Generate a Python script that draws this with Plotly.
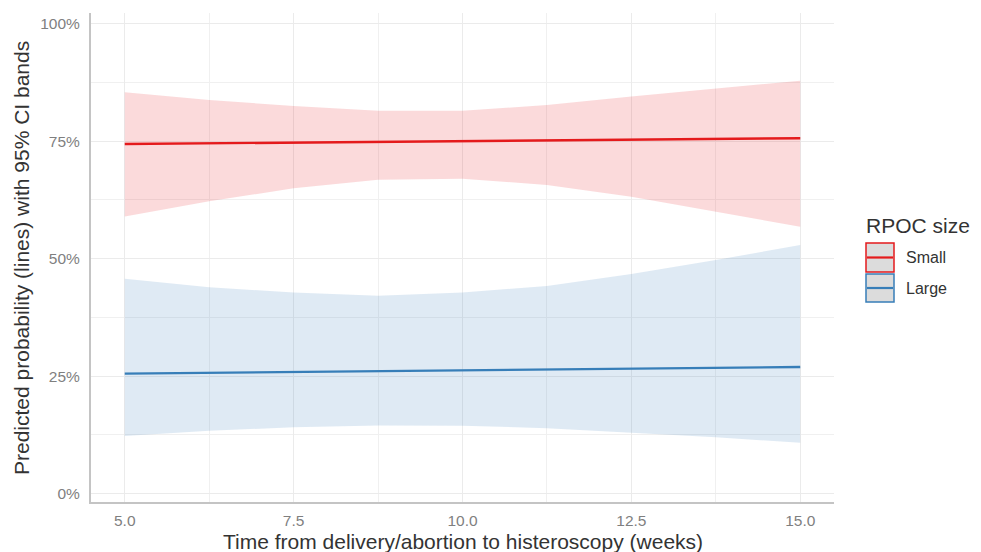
import plotly.graph_objects as go

# Data
weeks = [5.0, 6.25, 7.5, 8.75, 10.0, 11.25, 12.5, 13.75, 15.0]

small_fit = [0.744, 0.7455, 0.747, 0.7485, 0.750, 0.7515, 0.753, 0.755, 0.7565]
small_upper = [0.8545, 0.838, 0.825, 0.815, 0.815, 0.827, 0.845, 0.862, 0.879]
small_lower = [0.590, 0.622, 0.650, 0.668, 0.670, 0.657, 0.632, 0.600, 0.568]

large_fit = [0.2552, 0.257, 0.2588, 0.2605, 0.2623, 0.264, 0.2658, 0.2676, 0.2694]
large_upper = [0.457, 0.439, 0.428, 0.421, 0.428, 0.442, 0.4675, 0.497, 0.529]
large_lower = [0.1225, 0.1338, 0.141, 0.145, 0.1445, 0.139, 0.130, 0.1197, 0.108]

y_tickvals = [0, 0.25, 0.5, 0.75, 1.0]
y_ticktext = ["0%", "25%", "50%", "75%", "100%"]
x_tickvals = [5.0, 7.5, 10.0, 12.5, 15.0]

groups = ["Small", "Large"]
line_colors = {"Small": "#E41A1C", "Large": "#377EB8"}
fill_colors = {"Small": "rgba(228,26,28,0.16)", "Large": "rgba(55,126,184,0.16)"}
series = {
    "Small": (small_fit, small_lower, small_upper),
    "Large": (large_fit, large_lower, large_upper),
}

FONT = "Liberation Sans, Arial, Helvetica, sans-serif"
TITLE_COLOR = "#333333"

fig = go.Figure()
for g in groups:
    fit, lo, hi = series[g]
    fig.add_trace(go.Scatter(
        x=weeks + weeks[::-1], y=hi + lo[::-1],
        fill="toself", fillcolor=fill_colors[g],
        line=dict(width=0), mode="lines", hoverinfo="skip", showlegend=False,
    ))
for g in groups:
    fit, lo, hi = series[g]
    fig.add_trace(go.Scatter(
        x=weeks, y=fit, mode="lines", name=g,
        line=dict(color=line_colors[g], width=2.4), showlegend=False,
    ))


# page-pixel -> paper coordinates (plot area on page: x 91..834, y 13..502)
def px_x(p):
    return (p - 91) / (834 - 91)


def px_y(p):
    return (502 - p) / (502 - 13)


shapes = []
annotations = [
    dict(text="RPOC size", xref="paper", yref="paper", x=px_x(864), y=px_y(225),
         xanchor="left", yanchor="middle", showarrow=False,
         font=dict(family=FONT, size=21, color=TITLE_COLOR)),
    dict(text="Time from delivery/abortion to histeroscopy (weeks)",
         xref="paper", yref="paper", x=px_x(463), y=px_y(541),
         xanchor="center", yanchor="middle", showarrow=False,
         font=dict(family=FONT, size=21, color=TITLE_COLOR)),
    dict(text="Predicted probability (lines) with 95% CI bands",
         xref="paper", yref="paper", x=px_x(22), y=px_y(258), textangle=-90,
         xanchor="center", yanchor="middle", showarrow=False,
         font=dict(family=FONT, size=21, color=TITLE_COLOR)),
]
key_y = [(243, 272), (274, 302)]
for g, (y0px, y1px) in zip(groups, key_y):
    shapes.append(dict(
        type="rect", xref="paper", yref="paper",
        x0=px_x(866), x1=px_x(894), y0=px_y(y1px), y1=px_y(y0px),
        fillcolor="#DCDCDC", line=dict(color=line_colors[g], width=1.5),
    ))
    ym = px_y((y0px + y1px) / 2)
    shapes.append(dict(
        type="line", xref="paper", yref="paper",
        x0=px_x(867), x1=px_x(893), y0=ym, y1=ym,
        line=dict(color=line_colors[g], width=2.2),
    ))
    annotations.append(dict(
        text=g, xref="paper", yref="paper", x=px_x(904), y=ym,
        xanchor="left", yanchor="middle", showarrow=False,
        font=dict(family=FONT, size=16, color=TITLE_COLOR),
    ))

fig.update_layout(
    width=981, height=552,
    # the page body adds an 8px offset, so margins are shifted by 8px
    margin=dict(l=83, r=155, t=5, b=58),
    plot_bgcolor="white", paper_bgcolor="white",
    font=dict(family=FONT),
    shapes=shapes, annotations=annotations,
    xaxis=dict(
        range=[4.5, 15.5], tickvals=x_tickvals, tickformat=".1f",
        showgrid=True, gridcolor="#EBEBEB", gridwidth=1,
        minor=dict(dtick=1.25, tick0=5.0, showgrid=True, gridcolor="#F0F0F0", gridwidth=1),
        showline=True, linecolor="#C4C4C4", linewidth=2,
        zeroline=False, ticks="", ticklabelstandoff=3, automargin=False,
        tickfont=dict(family=FONT, size=15.5, color="#7F7F7F"),
    ),
    yaxis=dict(
        range=[-0.018, 1.023], tickvals=y_tickvals, ticktext=y_ticktext,
        showgrid=True, gridcolor="#EBEBEB", gridwidth=1,
        minor=dict(dtick=0.125, tick0=0, showgrid=True, gridcolor="#F0F0F0", gridwidth=1),
        showline=True, linecolor="#C4C4C4", linewidth=2,
        zeroline=False, ticks="", ticklabelstandoff=6, automargin=False,
        tickfont=dict(family=FONT, size=15.5, color="#7F7F7F"),
    ),
)

fig.write_html("out.html")
